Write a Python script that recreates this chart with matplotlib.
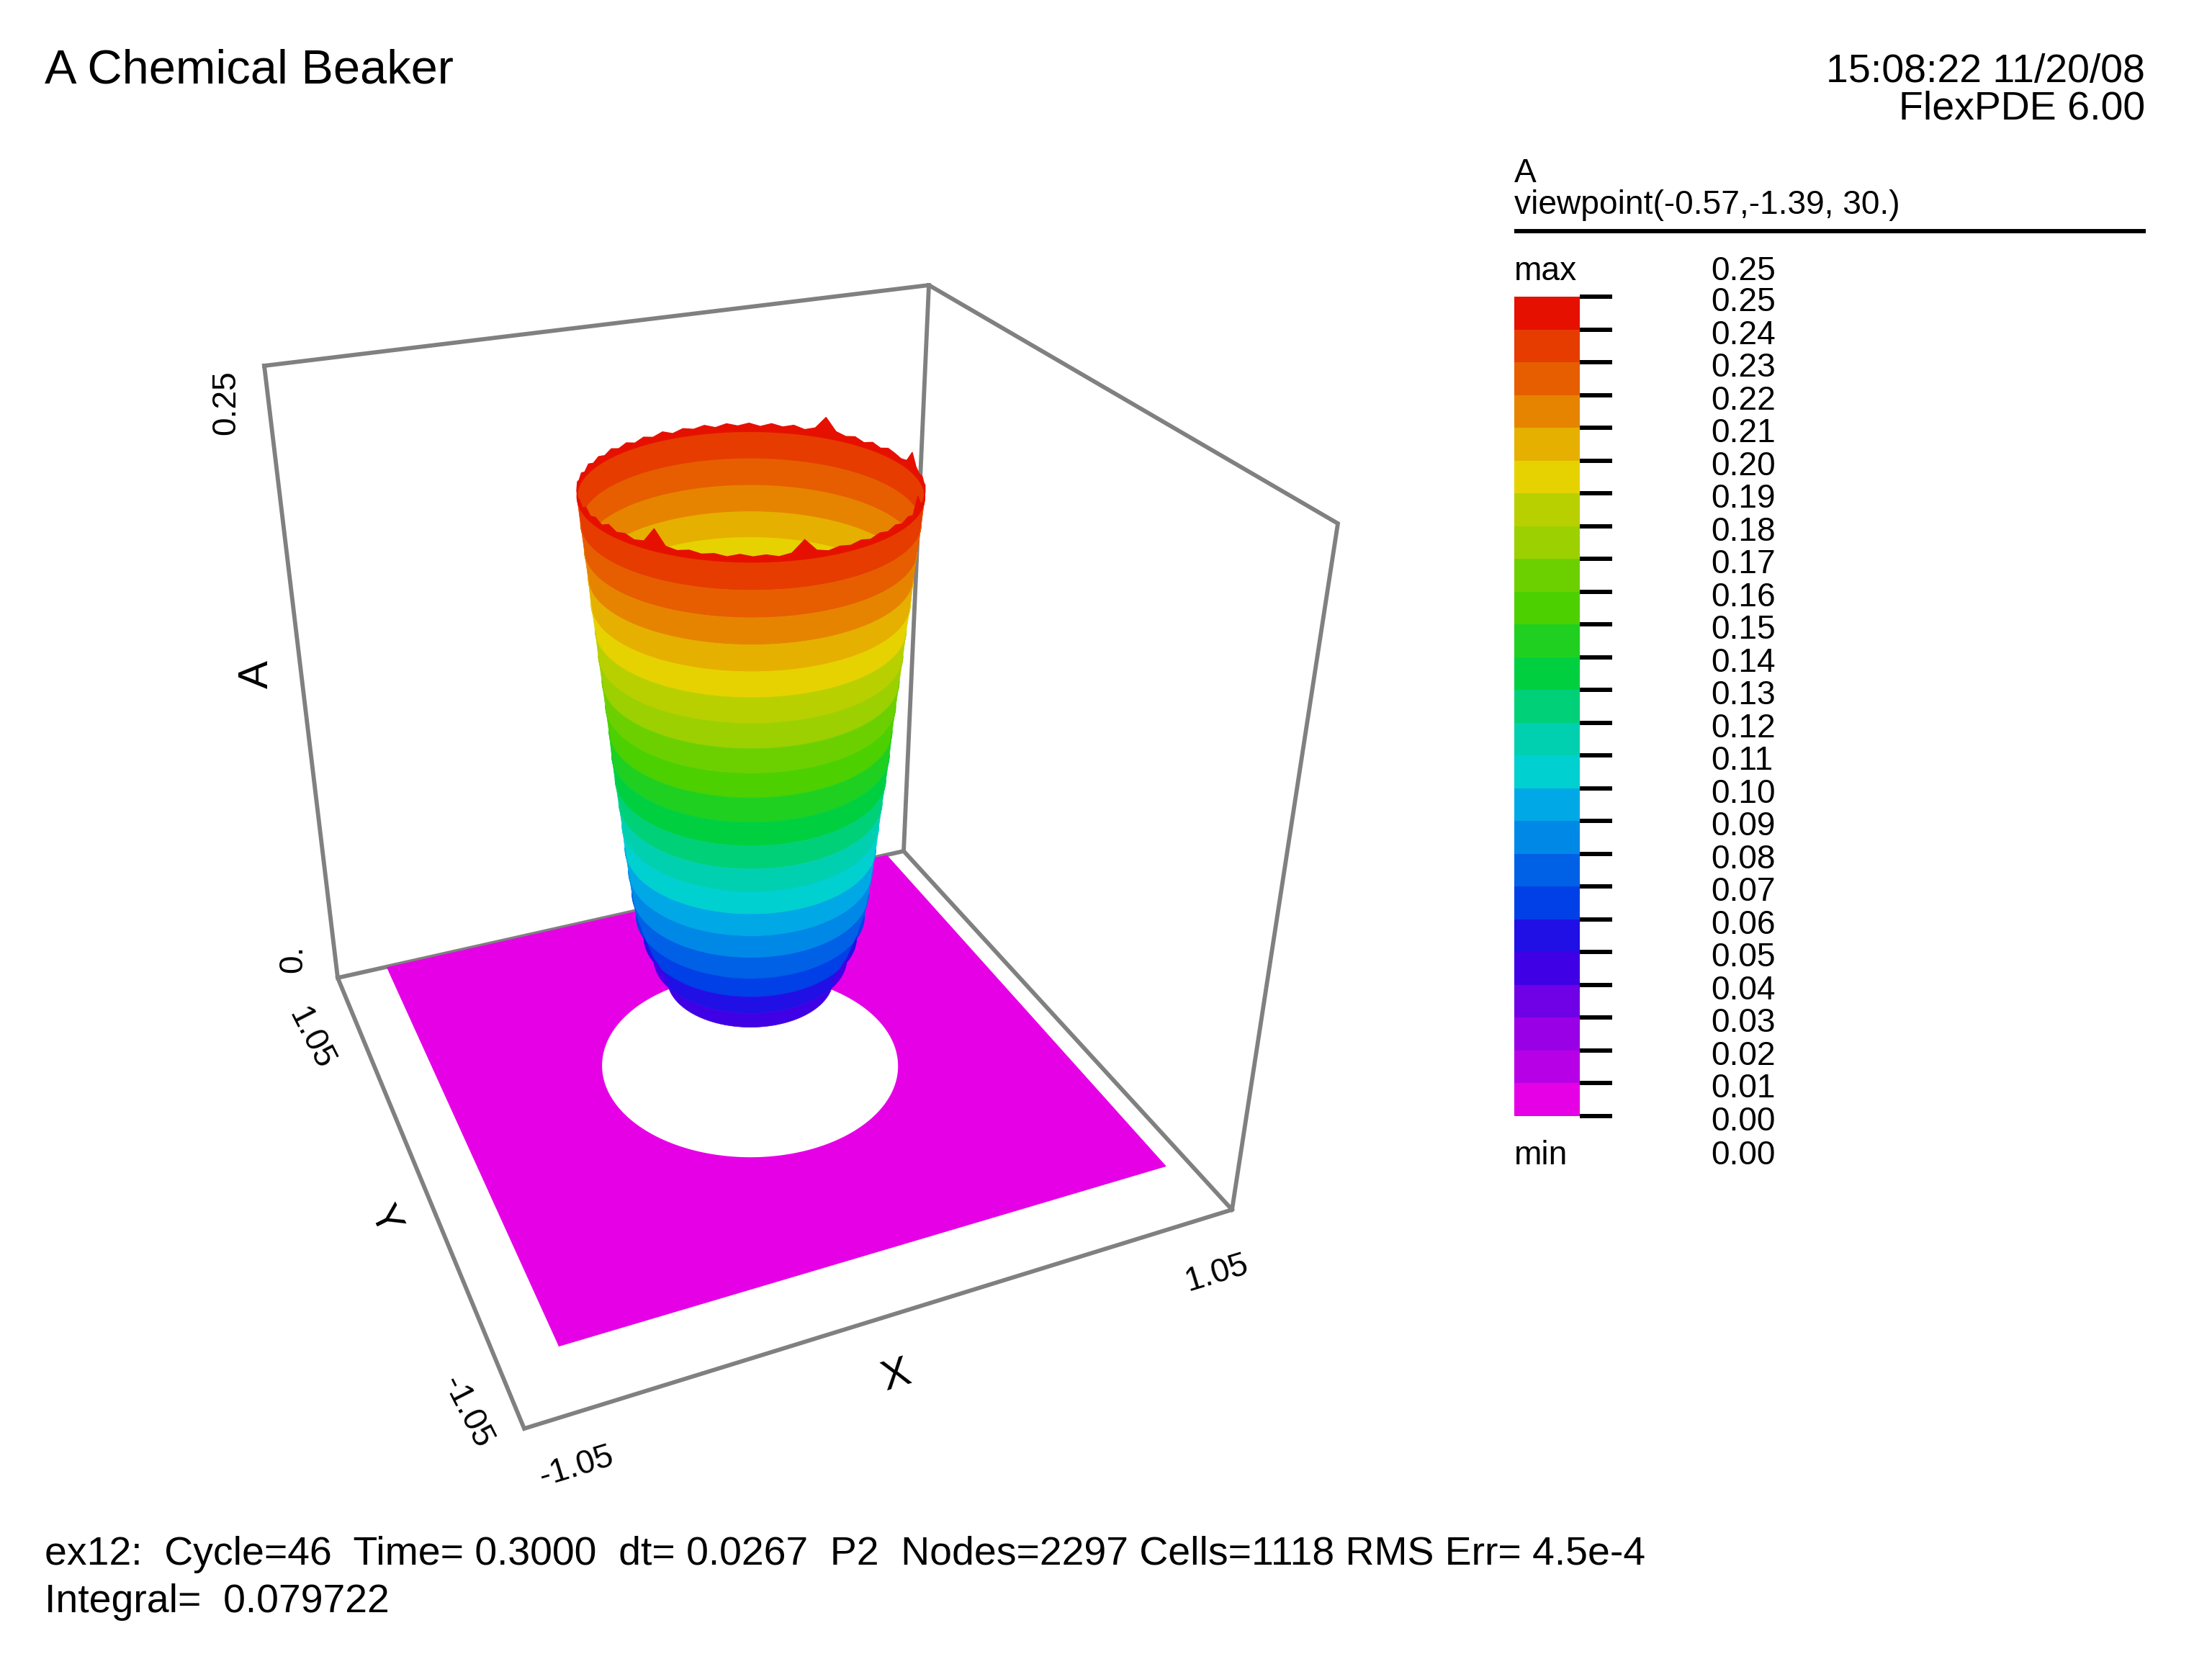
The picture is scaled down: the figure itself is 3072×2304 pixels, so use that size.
import numpy as np
import matplotlib
matplotlib.use('Agg')
import matplotlib.pyplot as plt
from matplotlib.path import Path
from matplotlib.patches import PathPatch

plt.rcParams['font.family'] = ['Liberation Sans', 'DejaVu Sans']

# contour bands, bottom (0.00-0.01) to top (0.24-0.25)
band_colors = ['#E600E6', '#B800E6', '#9A00E6', '#7000E6', '#4000E6', '#2010E6', '#0040E6',
               '#0060E6', '#0088E6', '#00A8E6', '#00D0D0', '#00D0B0', '#00D078', '#00D040',
               '#20D020', '#4CD000', '#6CD000', '#9CD000', '#B8D000', '#E6D200', '#E6B000',
               '#E68400', '#E65E00', '#E63C00', '#E61000']
legend_levels = [0.25, 0.24, 0.23, 0.22, 0.21, 0.20, 0.19, 0.18, 0.17, 0.16, 0.15, 0.14, 0.13,
                 0.12, 0.11, 0.10, 0.09, 0.08, 0.07, 0.06, 0.05, 0.04, 0.03, 0.02, 0.01, 0.00]

# radius of the beaker wall at each contour level
ring_levels = [0.24, 0.23, 0.22, 0.21, 0.20, 0.19, 0.18, 0.17, 0.16, 0.15, 0.14, 0.13, 0.12,
               0.11, 0.10, 0.09, 0.08, 0.07, 0.06, 0.05, 0.04]
ring_radius = [0.454, 0.448, 0.441, 0.434, 0.429, 0.421, 0.415, 0.408, 0.401, 0.394, 0.389,
               0.382, 0.374, 0.367, 0.361, 0.353, 0.345, 0.335, 0.314, 0.287, 0.248]

# jagged height of the rim, every 4 degrees round the beaker
rim_z = [0.2428, 0.2420, 0.2426, 0.2432, 0.2420, 0.2430, 0.2418, 0.2430, 0.2422, 0.2432,
         0.2478, 0.2432, 0.2420, 0.2432, 0.2422, 0.2432, 0.2420, 0.2432, 0.2422, 0.2432,
         0.2420, 0.2432, 0.2422, 0.2430, 0.2418, 0.2432, 0.2420, 0.2430, 0.2418, 0.2430,
         0.2420, 0.2432, 0.2420, 0.2430, 0.2420, 0.2432, 0.2418, 0.2430, 0.2420, 0.2430,
         0.2418, 0.2430, 0.2420, 0.2430, 0.2418, 0.2436, 0.2420, 0.2430, 0.2418, 0.2434,
         0.2420, 0.2428, 0.2418, 0.2425, 0.2476, 0.2425, 0.2418, 0.2426, 0.2418, 0.2424,
         0.2416, 0.2426, 0.2418, 0.2424, 0.2416, 0.2425, 0.2466, 0.2425, 0.2416, 0.2424,
         0.2418, 0.2426, 0.2418, 0.2428, 0.2420, 0.2430, 0.2420, 0.2430, 0.2420, 0.2472,
         0.2430, 0.2420, 0.2430, 0.2422, 0.2432, 0.2424, 0.2432, 0.2424, 0.2434, 0.2472]

plate_half = 0.91
hole_radius = 0.453
box_half = 1.05
z_low, z_high = -0.0124, 0.2595

# box corners (x, y, z) and where they sit on the page, used to fit the perspective
corners_3d = [(-box_half, box_half, z_high), (box_half, box_half, z_high), (box_half, -box_half, z_high),
              (-box_half, box_half, z_low), (box_half, box_half, z_low), (box_half, -box_half, z_low),
              (-box_half, -box_half, z_low)]
corners_px = [(367, 508), (1290, 396), (1858, 727), (469, 1358), (1255, 1182), (1711, 1680), (728, 1984)]


def fit_camera(world, page):
    rows = []
    for (x, y, z), (u, v) in zip(world, page):
        u, v = u / 1000, v / 1000
        rows.append([x, y, z, 1, 0, 0, 0, 0, -u * x, -u * y, -u * z, -u])
        rows.append([0, 0, 0, 0, x, y, z, 1, -v * x, -v * y, -v * z, -v])
    return np.linalg.svd(np.array(rows))[2][-1].reshape(3, 4)


camera = fit_camera(corners_3d, corners_px)


def project(x, y, z):
    x, y, z = np.broadcast_arrays(x, y, z)
    pts = camera @ np.vstack([x.ravel(), y.ravel(), z.ravel(), np.ones(x.size)])
    return np.column_stack([1000 * pts[0] / pts[2], 1000 * pts[1] / pts[2]])


theta = np.radians(np.arange(0, 360, 1))


def ring(radius, z):
    return project(radius * np.cos(theta), radius * np.sin(theta), z)


def front_arc(pts):
    # part of the ring between its left and right ends that faces the viewer
    pts = np.roll(pts, -np.argmin(pts[:, 0]), axis=0)
    k = np.argmax(pts[:, 0])
    one = pts[:k + 1]
    two = np.vstack([pts[k:], pts[:1]])
    return one if one[:, 1].mean() > two[:, 1].mean() else two[::-1]


fig = plt.figure(figsize=(30.72, 23.04), dpi=100)
ax = fig.add_axes([0, 0, 1, 1])
ax.set_xlim(0, 3072)
ax.set_ylim(2304, 0)
ax.axis('off')

# box
gray = '#808080'
box_lines = [[0, 1, 2, 5, 6, 3, 0], [1, 4], [3, 4, 5]]
for seq in box_lines:
    line = np.array([corners_px[i] for i in seq])
    ax.plot(line[:, 0], line[:, 1], color=gray, lw=4.2, solid_joinstyle='miter', zorder=1)

# floor with the round hole
outer = project(np.array([-1, 1, 1, -1, -1]) * plate_half, np.array([-1, -1, 1, 1, -1]) * plate_half, 0)
hole = ring(hole_radius, 0)
hole = np.vstack([hole, hole[:1]])
if np.cross(outer[1] - outer[0], outer[2] - outer[1]) * np.cross(hole[1] - hole[0], hole[2] - hole[1]) > 0:
    hole = hole[::-1]
floor = Path(np.vstack([outer, hole]),
             [Path.MOVETO] + [Path.LINETO] * 4 + [Path.MOVETO] + [Path.LINETO] * (len(hole) - 1))
ax.add_patch(PathPatch(floor, fc=band_colors[0], ec='none', zorder=2))

# inside of the beaker, clipped by the opening
opening = ring(ring_radius[0], ring_levels[0])
clip = Path(np.vstack([opening, opening[:1]]))
for lev, rad in zip(ring_levels[:9], ring_radius[:9]):
    idx = int(round(lev * 100)) - 1
    inner = ring(rad, lev)
    patch = ax.fill(inner[:, 0], inner[:, 1], color=band_colors[idx], lw=0, zorder=3)[0]
    patch.set_clip_path(clip, transform=ax.transData)

# outside wall, one strip per contour band
for i in range(len(ring_levels) - 1):
    idx = int(round(ring_levels[i + 1] * 100))
    upper = front_arc(ring(ring_radius[i], ring_levels[i]))
    lower = front_arc(ring(ring_radius[i + 1], ring_levels[i + 1]))
    strip = np.vstack([upper, lower[::-1]])
    ax.fill(strip[:, 0], strip[:, 1], fc=band_colors[idx], ec=band_colors[idx], lw=0.5, zorder=4)

# red jagged rim
rim_angle = np.radians(np.arange(0, 360, 4))
rim_top = project(ring_radius[0] * np.cos(rim_angle), ring_radius[0] * np.sin(rim_angle), np.array(rim_z))
rim_top = np.vstack([rim_top, rim_top[:1]])
rim_low = np.vstack([opening, opening[:1]])[::-1]
rim = Path(np.vstack([rim_top, rim_low]),
           [Path.MOVETO] + [Path.LINETO] * (len(rim_top) - 1) + [Path.MOVETO] + [Path.LINETO] * (len(rim_low) - 1))
ax.add_patch(PathPatch(rim, fc=band_colors[-1], ec=band_colors[-1], lw=1.0, zorder=5))

# axis annotation
axis_fs = 33.2
axis_labels = [('0.25', 314, 559, 90, axis_fs), ('A', 357, 937, 90, 42), ('0.', 407, 1332, 90, axis_fs),
               ('1.05', 432, 1443, -63, axis_fs), ('Y', 534, 1695, -63, 40), ('-1.05', 649, 1961, -63, axis_fs),
               ('-1.05', 801, 2037, 17, axis_fs), ('X', 1245, 1911, 17, 42), ('1.05', 1690, 1768, 17, axis_fs)]
for txt, x, y, rot, size in axis_labels:
    ax.text(x, y, txt, fontsize=size, rotation=rot, ha='center', va='center', rotation_mode='anchor')

# header and footer
ax.text(62, 116, 'A Chemical Beaker', fontsize=48.1, va='baseline')
ax.text(2979, 114, '15:08:22 11/20/08', fontsize=40, ha='right', va='baseline')
ax.text(2979, 165, 'FlexPDE 6.00', fontsize=40, ha='right', va='baseline')
ax.text(62, 2173, 'ex12:  Cycle=46  Time= 0.3000  dt= 0.0267  P2  Nodes=2297 Cells=1118 RMS Err= 4.5e-4',
        fontsize=39.9, va='baseline')
ax.text(62, 2239, 'Integral=  0.079722', fontsize=39.9, va='baseline')

# legend
legend_fs = 33.2
ax.text(2103, 253, 'A', fontsize=legend_fs, va='baseline')
ax.text(2103, 297, 'viewpoint(-0.57,-1.39, 30.)', fontsize=legend_fs, va='baseline')
ax.plot([2103, 2980], [321, 321], color='black', lw=4.3, solid_capstyle='butt')
ax.text(2103, 389, 'max', fontsize=legend_fs, va='baseline')
ax.text(2376, 389, '0.25', fontsize=legend_fs, va='baseline')
ax.text(2103, 1617, 'min', fontsize=legend_fs, va='baseline')
ax.text(2376, 1617, '0.00', fontsize=legend_fs, va='baseline')

bar_ax = fig.add_axes([2103 / 3072, 1 - 1550 / 2304, 91 / 3072, (1550 - 412) / 2304])
bar_ax.set_xlim(0, 1)
bar_ax.set_ylim(0, 0.25)
for k, col in enumerate(band_colors):
    bar_ax.bar(0.5, 0.01, width=1, bottom=k * 0.01, color=col, linewidth=0)
for spine in bar_ax.spines.values():
    spine.set_visible(False)
bar_ax.set_xticks([])
bar_ax.yaxis.tick_right()
bar_ax.set_yticks(legend_levels)
bar_ax.set_yticklabels([])
bar_ax.tick_params(axis='y', length=32.4, width=4.3, color='black')
for lev in legend_levels:
    bar_ax.annotate(f'{lev:.2f}', (1, lev), xycoords=('axes fraction', 'data'),
                    xytext=(131, -14.4), textcoords='offset points', fontsize=legend_fs, va='baseline',
                    annotation_clip=False)

fig.savefig('out.png', dpi=100)
